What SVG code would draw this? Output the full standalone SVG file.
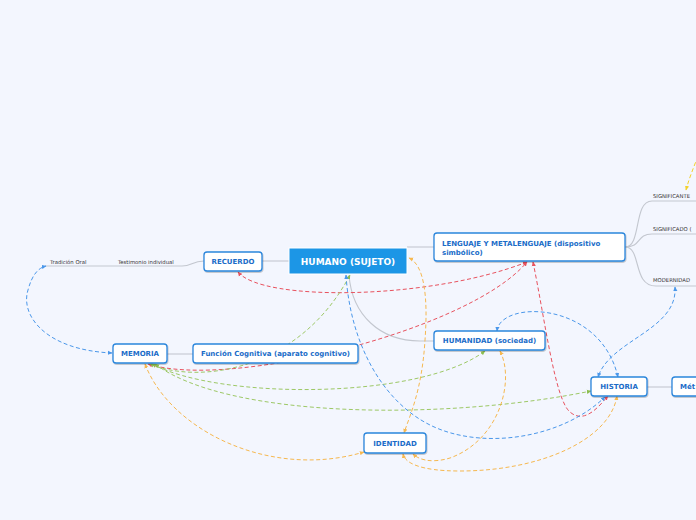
<svg xmlns="http://www.w3.org/2000/svg" width="696" height="520" viewBox="0 0 696 520">
<style>
.bg{fill:#f3f6fe}
.box{fill:#ffffff;stroke:#2a86dc;stroke-width:1.3}
.t{font-family:"DejaVu Sans",Verdana,sans-serif;font-weight:bold;font-size:7px;fill:#1a6cc8}
.lbl{font-family:"DejaVu Sans",Verdana,sans-serif;font-size:5.3px;fill:#333}
.g{fill:none;stroke:#c3c7cf;stroke-width:1.1}
.d{fill:none;stroke-width:1;stroke-dasharray:4 2.5}
.blue{stroke:#4a97ea}
.red{stroke:#e8525e}
.green{stroke:#9dc866}
.orange{stroke:#f6b84f}
.yellow{stroke:#f3d12a}
</style>
<defs>
<filter id="sh" x="-10%" y="-20%" width="130%" height="160%"><feDropShadow dx="0.6" dy="1" stdDeviation="0.7" flood-color="#000" flood-opacity="0.25"/></filter>
<marker id="mb" viewBox="0 0 6 6" refX="5" refY="3" markerWidth="5" markerHeight="5" markerUnits="userSpaceOnUse" orient="auto-start-reverse"><path d="M0,0.5 L5.5,3 L0,5.5 Z" fill="#4a97ea"/></marker>
<marker id="mr" viewBox="0 0 6 6" refX="5" refY="3" markerWidth="5" markerHeight="5" markerUnits="userSpaceOnUse" orient="auto-start-reverse"><path d="M0,0.5 L5.5,3 L0,5.5 Z" fill="#e8525e"/></marker>
<marker id="mg" viewBox="0 0 6 6" refX="5" refY="3" markerWidth="5" markerHeight="5" markerUnits="userSpaceOnUse" orient="auto-start-reverse"><path d="M0,0.5 L5.5,3 L0,5.5 Z" fill="#8cbd4f"/></marker>
<marker id="mo" viewBox="0 0 6 6" refX="5" refY="3" markerWidth="5" markerHeight="5" markerUnits="userSpaceOnUse" orient="auto-start-reverse"><path d="M0,0.5 L5.5,3 L0,5.5 Z" fill="#f6b84f"/></marker>
<marker id="my" viewBox="0 0 6 6" refX="5" refY="3" markerWidth="5" markerHeight="5" markerUnits="userSpaceOnUse" orient="auto-start-reverse"><path d="M0,0.5 L5.5,3 L0,5.5 Z" fill="#f3d12a"/></marker>
</defs>
<rect class="bg" x="0" y="0" width="696" height="520"/>
<g id="connectors">
<path class="g" d="M262,261 L289,261"/>
<path class="g" d="M407,247 L434,247"/>
<path class="g" d="M349,275 C352,315 380,341 420,341 L434,341"/>
<path class="g" d="M204,261 C192,261 192,266 182,266 L45,266"/>
<path class="g" d="M625,247 C642,247 633,201 652,201 L696,201"/>
<path class="g" d="M625,247 C642,247 636,234 652,234 L696,234"/>
<path class="g" d="M625,247 C642,247 632,286 656,286 L696,286"/>
<path class="g" d="M167,354 L193,354"/>
<path class="g" d="M647,387 L672,387"/>
<path class="d blue" marker-start="url(#mb)" marker-end="url(#mb)" d="M112,353 C45,350 20,315 28,290 C32,275 38,268 46,266"/>
<path class="d red" marker-start="url(#mr)" marker-end="url(#mr)" d="M238,272 C262,302 430,300 527,262"/>
<path class="d red" marker-start="url(#mr)" marker-end="url(#mr)" d="M148,364 C230,390 470,330 527,262"/>
<path class="d red" marker-start="url(#mr)" marker-end="url(#mr)" d="M533,262 C545,320 555,400 570,412 C585,425 600,405 608,396"/>
<path class="d green" marker-start="url(#mg)" marker-end="url(#mg)" d="M150,364 C200,385 300,370 350,275"/>
<path class="d green" marker-start="url(#mg)" marker-end="url(#mg)" d="M152,364 C220,400 420,400 485,351"/>
<path class="d green" marker-start="url(#mg)" marker-end="url(#mg)" d="M155,364 C230,420 450,420 591,391"/>
<path class="d orange" marker-start="url(#mo)" marker-end="url(#mo)" d="M145,364 C170,430 270,480 364,452"/>
<path class="d orange" marker-start="url(#mo)" marker-end="url(#mo)" d="M409,258 C425,265 428,300 425,340 C422,390 410,415 404,433"/>
<path class="d orange" marker-start="url(#mo)" marker-end="url(#mo)" d="M500,351 C515,380 500,440 450,458 C430,464 418,459 413,454"/>
<path class="d orange" marker-start="url(#mo)" marker-end="url(#mo)" d="M617,396 C610,440 540,471 460,471 C420,471 405,463 403,454"/>
<path class="d blue" marker-start="url(#mb)" marker-end="url(#mb)" d="M346,275 C350,340 380,400 430,425 C480,450 560,440 605,397"/>
<path class="d blue" marker-start="url(#mb)" marker-end="url(#mb)" d="M497,331 C500,300 600,300 618,377"/>
<path class="d blue" marker-start="url(#mb)" marker-end="url(#mb)" d="M675,287 C678,330 610,340 598,377"/>
<path class="d yellow" marker-end="url(#my)" d="M700,150 C695,165 690,175 686,190"/>
</g>
<g id="humano"><rect x="289" y="248" width="118" height="26" fill="#1c96e6" stroke="#ffffff" stroke-width="1"/><text x="348" y="264.5" text-anchor="middle" style="font-family:'DejaVu Sans',Verdana,sans-serif;font-weight:bold;font-size:9px;fill:#ffffff">HUMANO (SUJETO)</text></g>
<g id="lenguaje"><rect class="box" filter="url(#sh)" x="434" y="233" width="191" height="28" rx="3"/><text class="t" x="442" y="245.5">LENGUAJE Y METALENGUAJE (dispositivo</text><text class="t" x="442" y="254.5">simbólico)</text></g>
<g id="recuerdo"><rect class="box" filter="url(#sh)" x="204" y="252" width="58" height="19" rx="3"/><text class="t" x="233" y="264" text-anchor="middle">RECUERDO</text></g>
<g id="humanidad"><rect class="box" filter="url(#sh)" x="434" y="331" width="111" height="19" rx="3"/><text class="t" x="489.5" y="343" text-anchor="middle">HUMANIDAD (sociedad)</text></g>
<g id="memoria"><rect class="box" filter="url(#sh)" x="113" y="344" width="54" height="19" rx="3"/><text class="t" x="140" y="356" text-anchor="middle">MEMORIA</text></g>
<g id="funcion"><rect class="box" filter="url(#sh)" x="193" y="344" width="165" height="19" rx="3"/><text class="t" x="275.5" y="356" text-anchor="middle">Función Cognitiva (aparato cognitivo)</text></g>
<g id="historia"><rect class="box" filter="url(#sh)" x="591" y="377" width="56" height="19" rx="3"/><text class="t" x="619" y="389" text-anchor="middle">HISTORIA</text></g>
<g id="metodo"><rect class="box" filter="url(#sh)" x="672" y="377" width="40" height="19" rx="3"/><text class="t" x="680" y="389">Mét</text></g>
<g id="identidad"><rect class="box" filter="url(#sh)" x="364" y="433" width="62" height="20" rx="3"/><text class="t" x="395" y="445.5" text-anchor="middle">IDENTIDAD</text></g>
<g id="tradicion"><text class="lbl" x="50" y="263.5">Tradición Oral</text></g>
<g id="testimonio"><text class="lbl" x="118" y="263.5">Testimonio individual</text></g>
<g id="significante"><text class="lbl" x="653" y="197.5">SIGNIFICANTE</text></g>
<g id="significado"><text class="lbl" x="653" y="230.5">SIGNIFICADO (</text></g>
<g id="modernidad"><text class="lbl" x="653" y="281.5">MODERNIDAD</text></g>
</svg>
